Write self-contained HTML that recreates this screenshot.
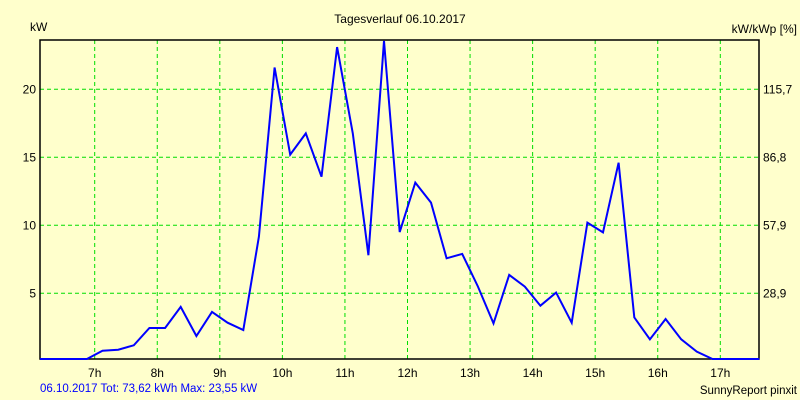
<!DOCTYPE html>
<html><head><meta charset="utf-8"><style>
html,body{margin:0;padding:0;background:#ffffcc;}
svg{display:block;font-family:"Liberation Sans",sans-serif;font-size:12px;}
</style></head><body>
<svg id="chart" width="800" height="400" viewBox="0 0 800 400">
<rect x="0" y="0" width="800" height="400" fill="#ffffcc"/>
<text x="400" y="23" text-anchor="middle" fill="#000">Tagesverlauf 06.10.2017</text>
<text x="30" y="31" fill="#000">kW</text>
<text x="797" y="33" text-anchor="end" fill="#000">kW/kWp [%]</text>
<text x="40" y="392" fill="#0000ff" font-size="11.5">06.10.2017 Tot: 73,62 kWh Max: 23,55 kW</text>
<text x="797" y="394" text-anchor="end" fill="#000" font-size="11.5">SunnyReport pinxit</text>
<g id="grid"></g>
<g id="labels"></g>
<rect x="40" y="40" width="719" height="319" fill="none" stroke="#000" stroke-width="1.5"/>
<g id="series"></g>
</svg>
<script>
const hourTicks = [7,8,9,10,11,12,13,14,15,16,17];
const hourLabels = ["7h","8h","9h","10h","11h","12h","13h","14h","15h","16h","17h"];
const kwTicks = [5,10,15,20];
const pctLabels = ["28,9","57,9","86,8","115,7"];
const times = [6.125,6.375,6.625,6.875,7.125,7.375,7.625,7.875,8.125,8.375,8.625,8.875,9.125,9.375,9.625,9.875,10.125,10.375,10.625,10.875,11.125,11.375,11.625,11.875,12.125,12.375,12.625,12.875,13.125,13.375,13.625,13.875,14.125,14.375,14.625,14.875,15.125,15.375,15.625,15.875,16.125,16.375,16.625,16.875,17.125,17.375,17.625];
const power = [0,0,0,0.15,0.78,0.85,1.18,2.45,2.45,4.0,1.86,3.63,2.84,2.3,9.16,21.6,15.2,16.76,13.57,23.1,16.76,7.8,23.55,9.5,13.14,11.67,7.57,7.9,5.5,2.79,6.35,5.49,4.09,5.05,2.84,10.2,9.48,14.6,3.23,1.62,3.11,1.62,0.71,0.15,0,0,0];

const NS = "http://www.w3.org/2000/svg";
const xS = t => 94.7 + (t - 7) * 62.56;
const yS = v => 361.3 - v * 13.6;
const grid = document.getElementById('grid');
const labels = document.getElementById('labels');
function mk(tag, attrs, parent){const e=document.createElementNS(NS,tag);for(const k in attrs)e.setAttribute(k,attrs[k]);parent.appendChild(e);return e;}

hourTicks.forEach((h,i)=>{
  const x = xS(h);
  const l = mk('line',{x1:x,x2:x,y1:40,y2:359,stroke:'#00dd00','stroke-dasharray':'4,3','stroke-width':1},grid);
  
  
  const t = mk('text',{x:x,y:377,'text-anchor':'middle',fill:'#000'},labels);
  t.textContent = hourLabels[i];
  
  
});
kwTicks.forEach((v,i)=>{
  const y = yS(v);
  const l = mk('line',{x1:40,x2:759,y1:y,y2:y,stroke:'#00dd00','stroke-dasharray':'4,3','stroke-width':1},grid);
  
  
  const t = mk('text',{x:36,y:y+4,'text-anchor':'end',fill:'#000'},labels);
  t.textContent = String(v);
  
  
  const r = mk('text',{x:763,y:y+4,fill:'#000'},labels);
  r.textContent = pctLabels[i];
  
  
});
const pts = times.map((t,i)=>xS(t).toFixed(1)+','+Math.min(359,yS(power[i])).toFixed(1)).join(' ');
const line = mk('polyline',{points:pts,fill:'none',stroke:'#0000ff','stroke-width':2,'stroke-linejoin':'miter'},document.getElementById('series'));


</script>
</body></html>
